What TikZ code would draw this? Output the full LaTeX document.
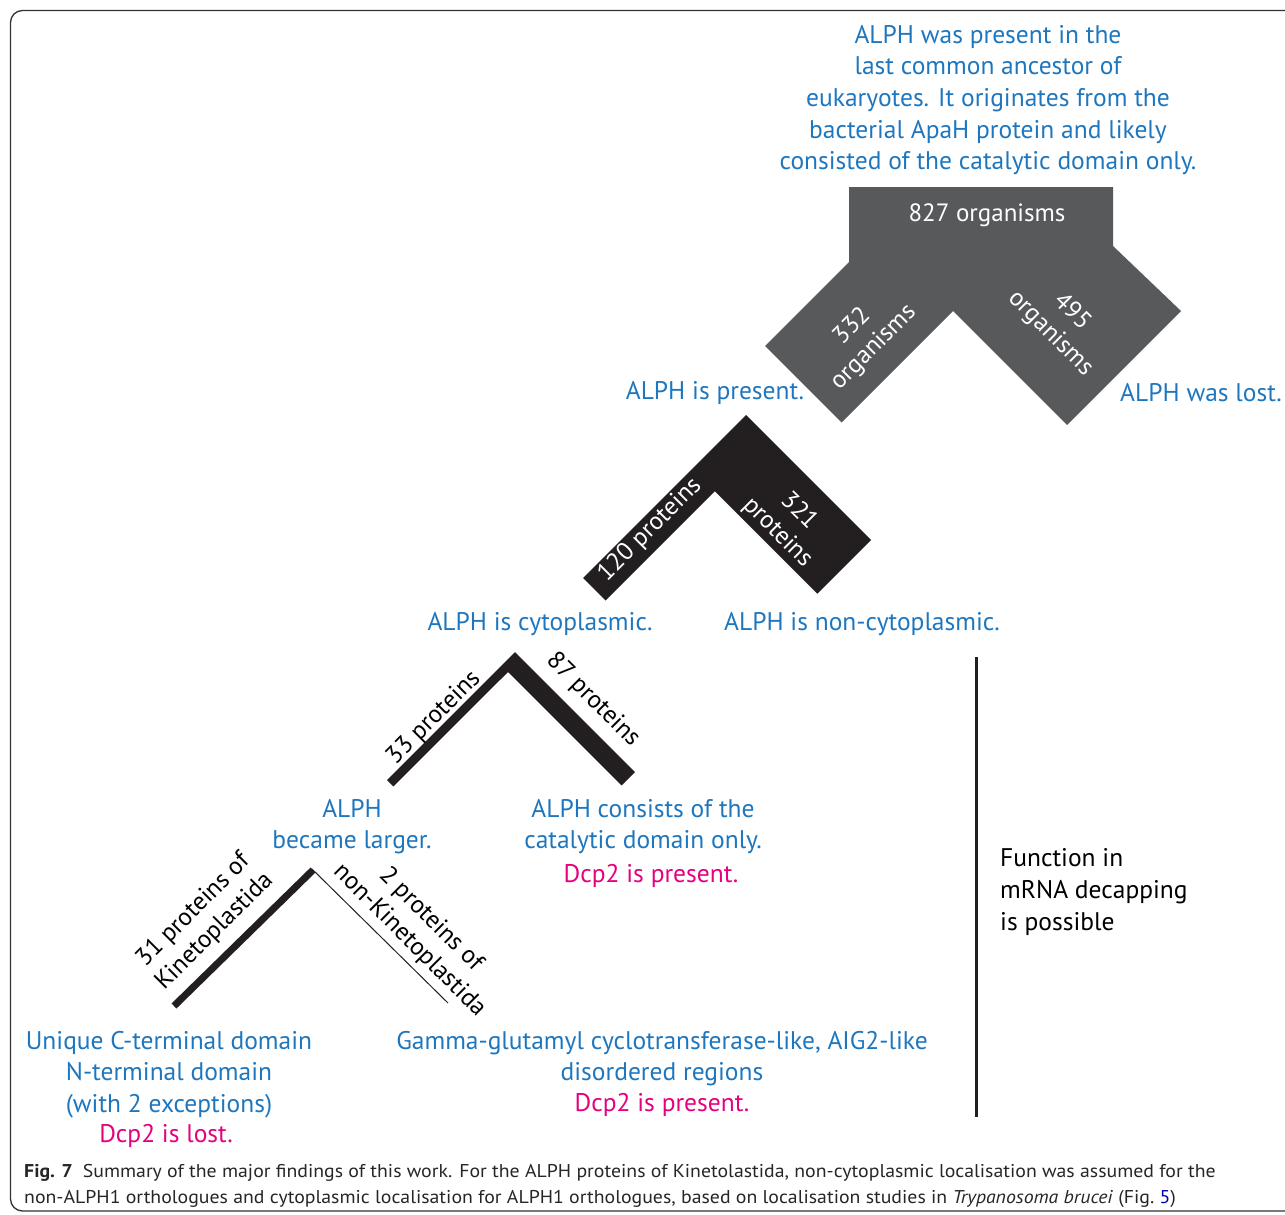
\documentclass[tikz,border=0pt]{standalone}
\usepackage{fontspec}
\setmainfont{PT Sans}
\definecolor{ablue}{HTML}{1E77BE}
\definecolor{amag}{HTML}{E5007E}
\definecolor{agrey}{HTML}{58595B}
\definecolor{ablack}{HTML}{231F20}
\tikzset{
  bluetxt/.style={text=ablue, align=center, inner sep=0pt, font=\fontsize{25.5}{31.6}\selectfont},
  magtxt/.style={text=amag, inner sep=0pt, font=\fontsize{25.5}{31.6}\selectfont},
  wlabel/.style={text=white, align=center, inner sep=0pt, font=\fontsize{25}{30}\selectfont},
  klabel/.style={text=black, align=center, inner sep=0pt, font=\fontsize{25}{30}\selectfont},
  captxt/.style={text=black!85, anchor=base west, inner sep=0pt, font=\fontsize{18.5}{22}\selectfont},
}
\begin{document}
\begin{tikzpicture}[x=1pt,y=-1pt]
\useasboundingbox (0,0) rectangle (1285,1215);
\clip (0,0) rectangle (1285,1215);
% frame
\draw[line width=1.3pt, black!80, rounded corners=12pt] (10.5,10.5) rectangle (1330,1211);

% grey split shape
\fill[agrey] (849,187) -- (1113,187) -- (1113,246) -- (1181,311) -- (1067,425) -- (953,311)
  -- (841.5,422.5) -- (765,346) -- (849,262) -- cycle;
% black V
\fill[ablack] (746,415) -- (871,540) -- (817.3,593.7) -- (714.75,491.25) -- (605.6,600.6) -- (583,578) -- cycle;
% middle V
\fill[ablack] (515,652) -- (635,772) -- (621.6,785.4) -- (508,672) -- (393.4,786.4) -- (387,780) -- cycle;
% bottom V
\coordinate (bapex) at (313,870);
\coordinate (bleft) at (174,1006);
\coordinate (bright) at (448,1003);
\draw[ablack, line width=7pt] (bapex) -- (bleft);
\draw[ablack, line width=1pt] (312,869) -- (bright);
% vertical line
\coordinate (vtop) at (976.5,657);
\coordinate (vbot) at (976.5,1117);
\draw[ablack, line width=2.5pt] (vtop) -- (vbot);

% top text
\node[bluetxt] (top) at (988,100) {ALPH was present in the\\last common ancestor of\\eukaryotes. It originates from the\\bacterial ApaH protein and likely\\consisted of the catalytic domain only.};
\node[wlabel] (n827) at (987,215) {827 organisms};
\node[wlabel, rotate=45] (n332) at (863,337) {332\\organisms};
\node[wlabel, rotate=-45] (n495) at (1061,323) {495\\organisms};

\node[bluetxt] (present) at (715,393) {ALPH is present.};
\node[bluetxt] (lost) at (1201,393) {ALPH was lost.};

\node[wlabel, rotate=45] (n120) at (650,530) {120 proteins};
\node[wlabel, rotate=-45] (n321) at (788,522) {321\\proteins};

\node[bluetxt] (cyto) at (540,624) {ALPH is cytoplasmic.};
\node[bluetxt] (noncyto) at (862,624) {ALPH is non-cytoplasmic.};

\node[klabel, rotate=45] (n33) at (434,718) {33 proteins};
\node[klabel, rotate=-45] (n87) at (593,700) {87 proteins};

\node[bluetxt] (larger) at (352,826.5) {ALPH\\became larger.};
\node[bluetxt] (catal) at (643,826.5) {ALPH consists of the\\catalytic domain only.};
\node[magtxt] (dcpA) at (651,876) {Dcp2 is present.};

\node[text=black, align=left, inner sep=0pt, anchor=west, font=\fontsize{25.5}{31.6}\selectfont] (func) at (1000,892) {Function in\\mRNA decapping\\is possible};

\node[klabel, rotate=45] (n31) at (204,921) {31 proteins of\\Kinetoplastida};
\node[klabel, rotate=-45] (n2) at (420,930) {2 proteins of\\non-Kinetoplastida};

\node[bluetxt] (unique) at (169,1074.5) {Unique C-terminal domain\\N-terminal domain\\(with 2 exceptions)};
\node[magtxt] (dcpB) at (166,1136) {Dcp2 is lost.};
\node[bluetxt] (gamma) at (662,1058.5) {Gamma-glutamyl cyclotransferase-like, AIG2-like\\disordered regions};
\node[magtxt] (dcpC) at (662,1105) {Dcp2 is present.};

% caption
\node[captxt] (cap1) at (24,1177) {\scalebox{1.07}[1]{\textbf{Fig. 7}\enspace Summary of the major findings of this work. For the ALPH proteins of Kinetolastida, non-cytoplasmic localisation was assumed for the}};
\node[captxt] (cap2) at (24,1203) {\scalebox{1.07}[1]{non-ALPH1 orthologues and cytoplasmic localisation for ALPH1 orthologues, based on localisation studies in \textit{Trypanosoma brucei} (Fig.~\textcolor{blue!70!black}{5})}};
\end{tikzpicture}
\end{document}
